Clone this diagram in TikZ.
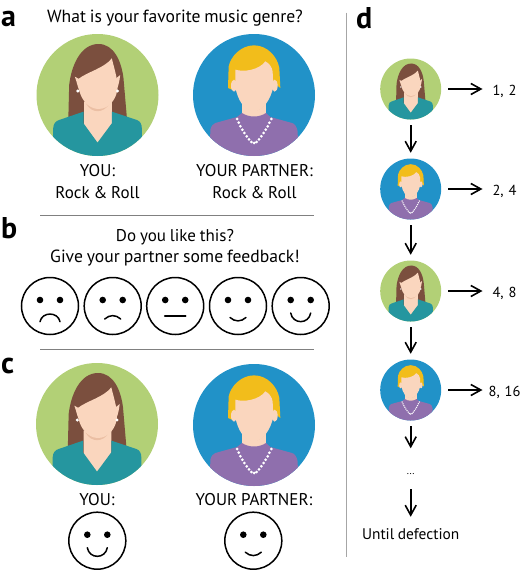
\documentclass[tikz,border=0pt]{standalone}
\usepackage{fontspec}
\setmainfont[WordSpace=0.85]{PT Sans}
\usepackage{xcolor}
\usetikzlibrary{arrows.meta}
\definecolor{leaf}{HTML}{B2D076}
\definecolor{sky}{HTML}{2192C8}
\definecolor{brownhair}{HTML}{7B4F3E}
\definecolor{blondhair}{HTML}{F2BD1B}
\definecolor{skin}{HTML}{FAD6BE}
\definecolor{chin}{HTML}{EBBFA4}
\definecolor{blouse}{HTML}{25969F}
\definecolor{sweater}{HTML}{8F6FAD}
\tikzset{
txt/.style={font=\fontsize{17}{20}\selectfont,inner sep=0pt},
wide/.style={font=\fontsize{17.6}{20}\selectfont,inner sep=0pt},
note/.style={font=\fontsize{14.5}{17}\selectfont,inner sep=0pt},
panel/.style={font=\fontsize{30}{32}\selectfont\bfseries,inner sep=0pt,anchor=base west},
rule/.style={draw=gray,line width=0.9pt},
big/.style={circle,minimum size=122pt,inner sep=0pt},
small/.style={circle,minimum size=61pt,inner sep=0pt},
green/.style={fill=leaf},
blue/.style={fill=sky},
smiley/.style={circle,draw,line width=1.5pt,minimum size=57pt,inner sep=0pt},
mouth/.style={line width=1.5pt,line cap=round},
link/.style={-{Straight Barb[length=10pt,width=11pt]},line width=1.6pt,shorten <=5.5pt,shorten >=5.5pt},
gain/.style={note,text width=36pt,align=center,text height=12pt,text depth=0pt},
pics/eyes/.style={code={
\fill (-10,-6) circle (3.3) (10,-6) circle (3.3);
\draw[mouth] #1;
}},
pics/woman/.style={code={
\clip (0,0) circle (183);
\fill[brownhair] (-88,90)--(-85,-30) .. controls (-78,-90) and (-50,-153) .. (3,-153) .. controls (50,-153) and (72,-100) .. (78,-50)--(90,90)--cycle;
\fill[skin] (-68,-55) .. controls (-62,-40) and (-60,-25) .. (-55,-15)--(-50,-45)--cycle;
\fill[skin] (68,-60) .. controls (66,-40) and (62,-25) .. (56,-12)--(50,-45)--cycle;
\fill[skin] (-40,20)--(-40,90)--(0,143)--(43,90)--(43,20)--cycle;
\fill[chin] (-34,26) .. controls (-18,56) and (18,56) .. (36,26)--cycle;
\fill[skin] (-59,-47) .. controls (-30,-70) and (20,-80) .. (43,-110) .. controls (50,-80) and (60,-50) .. (60,-25) .. controls (60,10) and (35,43) .. (1,42) .. controls (-30,40) and (-50,10) .. (-55,-15)--cycle;
\fill[white] (-59,-12) circle (5) (60,-12) circle (5);
\fill[blouse] (-133,200)--(-133,100) .. controls (-132,85) and (-125,78) .. (-115,75)--(-42,50)--(-42,85)--(0,143)--(43,85)--(43,50)--(118,75) .. controls (128,78) and (133,88) .. (133,100)--(133,200)--cycle;
}},
pics/man/.style={code={
\clip (0,0) circle (183);
\fill[skin] (-36,10)--(-36,70)--(36,70)--(36,10)--cycle;
\fill[chin] (-36,22) .. controls (-18,56) and (18,56) .. (36,22)--cycle;
\fill[sweater] (-133,200)--(-131,104) .. controls (-128,92) and (-122,86) .. (-116,84)--(-51,66)--(-36,54) .. controls (-15,68) and (15,68) .. (36,54)--(49,66)--(114,84) .. controls (122,86) and (128,95) .. (131,109)--(133,200)--cycle;
\fill[blondhair] (-78,-21)--(-76,-86) .. controls (-70,-115) and (-40,-149) .. (0,-149) .. controls (40,-149) and (70,-115) .. (76,-81)--(79,-21)--(68,-30)--(-66,-16)--cycle;
\fill[skin] (-60,-28) ellipse (9 and 18) (62,-28) ellipse (9 and 18);
\fill[skin] (-56,-76) .. controls (-30,-68) and (15,-75) .. (34,-101) .. controls (45,-95) and (54,-85) .. (56,-70)--(58,-25) .. controls (50,15) and (25,49) .. (-1,49) .. controls (-27,49) and (-50,15) .. (-56,-25)--cycle;
\fill[white] (-51,72) circle (4.5) (-46,83) circle (4.5) (-41,94) circle (4.5) (-35,104) circle (4.5) (-29,114) circle (4.5) (-22,124) circle (4.5) (-15,133) circle (4.5) (-8,141) circle (4.5) (0,144) circle (4.5) (8,141) circle (4.5) (15,133) circle (4.5) (22,124) circle (4.5) (29,114) circle (4.5) (35,104) circle (4.5) (41,94) circle (4.5) (46,83) circle (4.5) (52,72) circle (4.5);
}}
}
\begin{document}
\begin{tikzpicture}[x=1pt,y=-1pt]
\useasboundingbox (0,0) rectangle (520,570);
\node[panel] (pa) at (1,26.5) {a};
\node[panel] (pb) at (1,238) {b};
\node[panel] (pc) at (1,373) {c};
\node[panel] (pd) at (356,28) {d};
\node[wide,anchor=base] (question) at (175,22.5) {What is your favorite music genre?};
\node[big,green] (you1) at (97.5,95) {};
\node[big,blue] (mate1) at (254,95) {};
\pic[scale=0.3333] at (you1) {woman};
\pic[scale=0.3333] at (mate1) {man};
\node[txt,anchor=base,align=center] (youtxt1) at (97.5,176.5) {YOU:};
\node[txt,anchor=base] (rock1) at (97.5,198) {Rock \& Roll};
\node[txt,anchor=base] (matetxt1) at (254.5,176.5) {YOUR PARTNER:};
\node[txt,anchor=base] (rock2) at (254.5,198) {Rock \& Roll};
% feedback
\coordinate (r1l) at (40,215);
\coordinate (r1r) at (313.5,215);
\draw[rule] (r1l)--(r1r);
\node[txt,anchor=base] (ask1) at (175,241.7) {Do you like this?};
\node[wide,anchor=base] (ask2) at (175,262.7) {Give your partner some feedback!};
\node[smiley] (f1) at (50,306) {};
\node[smiley] (f2) at (112.7,306) {};
\node[smiley] (f3) at (175.2,306) {};
\node[smiley] (f4) at (238,306) {};
\node[smiley] (f5) at (300.7,306) {};
\pic at (f1) {eyes={(-10,15.7) .. controls (-8,5.5) and (8,5.5) .. (10,15.7)}};
\pic at (f2) {eyes={(-8,13) .. controls (-3,8.5) and (3,8.5) .. (8,13)}};
\pic at (f3) {eyes={(-10.5,10)--(10.5,10)}};
\pic at (f4) {eyes={(-8,11.5) .. controls (-3,16) and (3,16) .. (8,11.5)}};
\pic at (f5) {eyes={(-10,7) .. controls (-8,18.5) and (8,18.5) .. (10,7)}};
\coordinate (r2l) at (40,349);
\coordinate (r2r) at (313.5,349);
\draw[rule] (r2l)--(r2r);
% result
\node[big,green] (you2) at (97,424) {};
\node[big,blue] (mate2) at (254,425) {};
\pic[scale=0.3333] at (you2) {woman};
\pic[scale=0.3333] at (mate2) {man};
\node[txt,anchor=base] (youtxt2) at (97,505.7) {YOU:};
\node[txt,anchor=base] (matetxt2) at (254,505.7) {YOUR PARTNER:};
\node[smiley] (f6) at (97.3,540.7) {};
\node[smiley] (f7) at (253.3,540.7) {};
\pic at (f6) {eyes={(-10,7) .. controls (-8,18.5) and (8,18.5) .. (10,7)}};
\pic at (f7) {eyes={(-8,11.5) .. controls (-3,16) and (3,16) .. (8,11.5)}};
% sequence
\coordinate (r3t) at (346,12.7);
\coordinate (r3b) at (346,556.7);
\draw[draw=gray!70,line width=1pt] (r3t)--(r3b);
\node[small,green] (s1) at (410.7,89) {};
\node[small,blue] (s2) at (410.7,189) {};
\node[small,green] (s3) at (410.7,291) {};
\node[small,blue] (s4) at (410.7,390) {};
\pic[scale=0.1667] at (s1) {woman};
\pic[scale=0.1667] at (s2) {man};
\pic[scale=0.1667] at (s3) {woman};
\pic[scale=0.1667] at (s4) {man};
\node[gain] (g1) at (504.5,89) {1, 2};
\node[gain] (g2) at (504.5,189) {2, 4};
\node[gain] (g3) at (504.5,291) {4, 8};
\node[gain] (g4) at (504.5,390) {8, 16};
\node[note,text height=5pt,text depth=0pt,minimum height=35pt,font=\fontsize{10}{12}\selectfont] (dots) at (410.7,471.5) {...};
\node[note,anchor=base,text height=11pt,text depth=3pt,inner ysep=11pt,font=\fontsize{15.4}{18}\selectfont] (stop) at (410.7,539) {Until defection};
\draw[link] (s1)--(s2);
\draw[link] (s2)--(s3);
\draw[link] (s3)--(s4);
\draw[link] (s4.south)--(dots.north);
\draw[link,shorten <=0pt,shorten >=0pt] (dots.south)--(stop.north);
\draw[link,shorten <=7pt,shorten >=3.8pt] (s1)--(g1);
\draw[link,shorten <=7pt,shorten >=3.8pt] (s2)--(g2);
\draw[link,shorten <=7pt,shorten >=3.8pt] (s3)--(g3);
\draw[link,shorten <=7pt,shorten >=3.8pt] (s4)--(g4);
\end{tikzpicture}
\end{document}
